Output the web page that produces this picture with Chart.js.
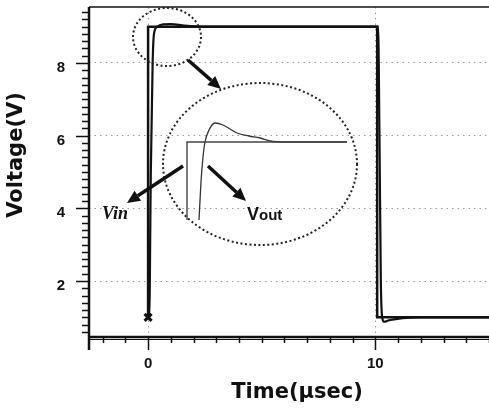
<!DOCTYPE html>
<html>
<head>
<meta charset="utf-8">
<script src="https://cdn.jsdelivr.net/npm/chart.js@4/dist/chart.umd.min.js"></script>
<style>
  html, body { margin: 0; padding: 0; background: #fff; }
  #wrap { position: relative; width: 489px; height: 413px; overflow: hidden; background: #fff; }
  #main { position: absolute; left: 0; top: 0; }
  #inset { position: absolute; left: 183px; top: 115px; }
</style>
</head>
<body>
<div id="wrap">
  <canvas id="main" width="489" height="413"></canvas>
  <canvas id="inset" width="170" height="105"></canvas>
</div>
<script>
// main traces, time in usec, voltage in V
const vinTime  = [0, 0, 10.08, 10.08, 16];
const vinVolt  = [1.0, 9.0, 9.0, 1.0, 1.0];
const voutTime = [0, 0.05, 0.12, 0.2, 0.26, 0.4, 0.66, 1.0, 1.6, 2.5, 10.12, 10.18, 10.24, 10.3, 10.38, 10.6, 11.2, 12, 16];
const voutVolt = [1.0, 1.0, 5.0, 8.0, 8.8, 9.0, 9.06, 9.07, 9.03, 9.0, 9.0, 6.0, 2.0, 1.0, 0.88, 0.92, 0.98, 1.0, 1.0];

// magnified rising edge for the inset, time in ns
const insetVinTime  = [0, 0, 80];
const insetVinVolt  = [8.22, 9.0, 9.0];
const insetVoutTime = [6, 7, 8, 9, 11, 14, 18, 25, 31, 36.5, 41.5, 50, 80];
const insetVoutVolt = [8.22, 8.6, 8.85, 9.0, 9.12, 9.19, 9.17, 9.09, 9.06, 9.04, 9.01, 9.0, 9.0];

// axes
const xMajor = [0, 10];
const yMajor = [2, 4, 6, 8];
const xRange = [-2.6, 15.0];
const yRange = [0.46, 9.54];

const xMinor = [];
for (let t = -2; t <= 15; t++) xMinor.push(t);
const yMinor = [];
for (let v = 0.6; v < 9.5; v += 0.2) yMinor.push(Math.round(v * 10) / 10);

const toPoints = (xs, ys) => xs.map((x, i) => ({ x: x, y: ys[i] }));

function dottedEllipse(ctx, cx, cy, rx, ry) {
    ctx.save();
    ctx.strokeStyle = '#222';
    ctx.lineWidth = 2;
    ctx.setLineDash([2, 2.5]);
    ctx.beginPath();
    ctx.ellipse(cx, cy, rx, ry, 0, 0, Math.PI * 2);
    ctx.stroke();
    ctx.restore();
}

function arrow(ctx, x1, y1, x2, y2) {
    const ang = Math.atan2(y2 - y1, x2 - x1);
    const head = 13;
    const bx = x2 - head * Math.cos(ang);
    const by = y2 - head * Math.sin(ang);
    ctx.save();
    ctx.strokeStyle = '#111';
    ctx.fillStyle = '#111';
    ctx.lineWidth = 3.5;
    ctx.beginPath();
    ctx.moveTo(x1, y1);
    ctx.lineTo(bx, by);
    ctx.stroke();
    ctx.beginPath();
    ctx.moveTo(x2, y2);
    ctx.lineTo(bx + 6 * Math.sin(ang), by - 6 * Math.cos(ang));
    ctx.lineTo(bx - 6 * Math.sin(ang), by + 6 * Math.cos(ang));
    ctx.closePath();
    ctx.fill();
    ctx.restore();
}

// keep the plot area where the reference has it
function fixBox(scale, size) {
    if (scale.isHorizontal()) scale.height = size;
    else scale.width = size;
    scale.paddingTop = 0;
    scale.paddingBottom = 0;
    scale.paddingLeft = 0;
    scale.paddingRight = 0;
}

// frame, tick marks, titles and the zoom callouts
const decorPlugin = {
    id: 'decor',
    afterDraw(chart) {
        const { ctx, chartArea: a, scales: { x, y } } = chart;
        ctx.save();
        ctx.strokeStyle = '#111';

        // frame
        ctx.lineWidth = 1.5;
        ctx.beginPath();
        ctx.moveTo(a.left, a.top);
        ctx.lineTo(a.right, a.top);
        ctx.stroke();
        ctx.lineWidth = 2.5;
        ctx.beginPath();
        ctx.moveTo(a.left, a.top);
        ctx.lineTo(a.left, a.bottom + 13);
        ctx.moveTo(a.left, a.bottom);
        ctx.lineTo(a.right, a.bottom);
        ctx.stroke();
        ctx.lineWidth = 1;
        ctx.beginPath();
        ctx.moveTo(a.left, a.bottom + 2.5);
        ctx.lineTo(a.right, a.bottom + 2.5);
        ctx.stroke();

        // tick marks
        ctx.lineWidth = 1.5;
        ctx.beginPath();
        yMinor.forEach(v => {
            const py = Math.round(y.getPixelForValue(v)) + 0.5;
            const len = yMajor.includes(v) ? 13 : 7;
            ctx.moveTo(a.left - len, py);
            ctx.lineTo(a.left, py);
        });
        xMinor.forEach(t => {
            const px = Math.round(x.getPixelForValue(t)) + 0.5;
            const len = xMajor.includes(t) ? 13 : 6;
            ctx.moveTo(px, a.bottom);
            ctx.lineTo(px, a.bottom + len);
        });
        ctx.stroke();

        // axis titles
        ctx.fillStyle = '#111';
        ctx.font = 'bold 21px "DejaVu Sans"';
        ctx.textAlign = 'center';
        ctx.textBaseline = 'middle';
        ctx.fillText('Time(\u03bcsec)', 297, 393);
        ctx.save();
        ctx.translate(17, 155);
        ctx.rotate(-Math.PI / 2);
        ctx.fillText('Voltage(V)', 0, 0);
        ctx.restore();

        // zoom callouts
        dottedEllipse(ctx, 167, 37, 34, 29);
        dottedEllipse(ctx, 260, 164, 97, 81);
        arrow(ctx, 188, 60, 221, 89);
        arrow(ctx, 183, 166, 127, 203);
        arrow(ctx, 208, 166, 246, 201);

        ctx.textAlign = 'left';
        ctx.textBaseline = 'alphabetic';
        ctx.font = 'bold italic 18px "Liberation Serif"';
        ctx.fillText('Vin', 102, 219);
        ctx.font = 'bold 18px "Liberation Sans"';
        ctx.fillText('V', 247, 220);
        ctx.font = 'bold 15px "Liberation Sans"';
        ctx.fillText('out', 259, 220);
        ctx.restore();
    }
};

const tickFont = { family: '"Liberation Sans"', size: 15, weight: 'bold' };

new Chart(document.getElementById('main'), {
    type: 'line',
    data: {
        datasets: [
            {
                label: 'Vin',
                data: toPoints(vinTime, vinVolt),
                borderColor: '#111',
                borderWidth: 2.5,
                pointStyle: 'crossRot',
                pointRadius: ctx => ctx.dataIndex === 0 ? 5 : 0,
                pointBorderWidth: 3,
                pointBorderColor: '#111'
            },
            {
                label: 'Vout',
                data: toPoints(voutTime, voutVolt),
                borderColor: '#111',
                borderWidth: 2.2,
                pointRadius: 0,
                cubicInterpolationMode: 'monotone'
            }
        ]
    },
    options: {
        responsive: false,
        animation: false,
        layout: { autoPadding: false, padding: { top: 7, left: 0, right: 0, bottom: 0 } },
        plugins: {
            legend: { display: false },
            tooltip: { enabled: false }
        },
        scales: {
            x: {
                type: 'linear',
                min: xRange[0],
                max: xRange[1],
                afterFit: scale => fixBox(scale, 76),
                afterBuildTicks: scale => { scale.ticks = xMajor.map(v => ({ value: v })); },
                ticks: { color: '#111', font: tickFont, padding: 18, maxRotation: 0 },
                grid: { color: '#9a9a9a', lineWidth: 1, drawTicks: false },
                border: { display: false, dash: [1.5, 4] }
            },
            y: {
                min: yRange[0],
                max: yRange[1],
                afterFit: scale => fixBox(scale, 89),
                afterBuildTicks: scale => { scale.ticks = yMajor.map(v => ({ value: v })); },
                ticks: { color: '#111', font: tickFont, padding: 24, labelOffset: 5 },
                grid: { color: '#9a9a9a', lineWidth: 1, drawTicks: false },
                border: { display: false, dash: [1.5, 4] }
            }
        }
    },
    plugins: [decorPlugin]
});

new Chart(document.getElementById('inset'), {
    type: 'line',
    data: {
        datasets: [
            {
                label: 'Vin',
                data: toPoints(insetVinTime, insetVinVolt),
                borderColor: '#444',
                borderWidth: 1.4,
                pointRadius: 0
            },
            {
                label: 'Vout',
                data: toPoints(insetVoutTime, insetVoutVolt),
                borderColor: '#333',
                borderWidth: 1.3,
                pointRadius: 0,
                cubicInterpolationMode: 'monotone'
            }
        ]
    },
    options: {
        responsive: false,
        animation: false,
        layout: { padding: 0, autoPadding: false },
        plugins: {
            legend: { display: false },
            tooltip: { enabled: false }
        },
        scales: {
            x: { type: 'linear', min: -2, max: 83, display: false },
            y: { min: 8.22, max: 9.27, display: false }
        }
    }
});
</script>
</body>
</html>
